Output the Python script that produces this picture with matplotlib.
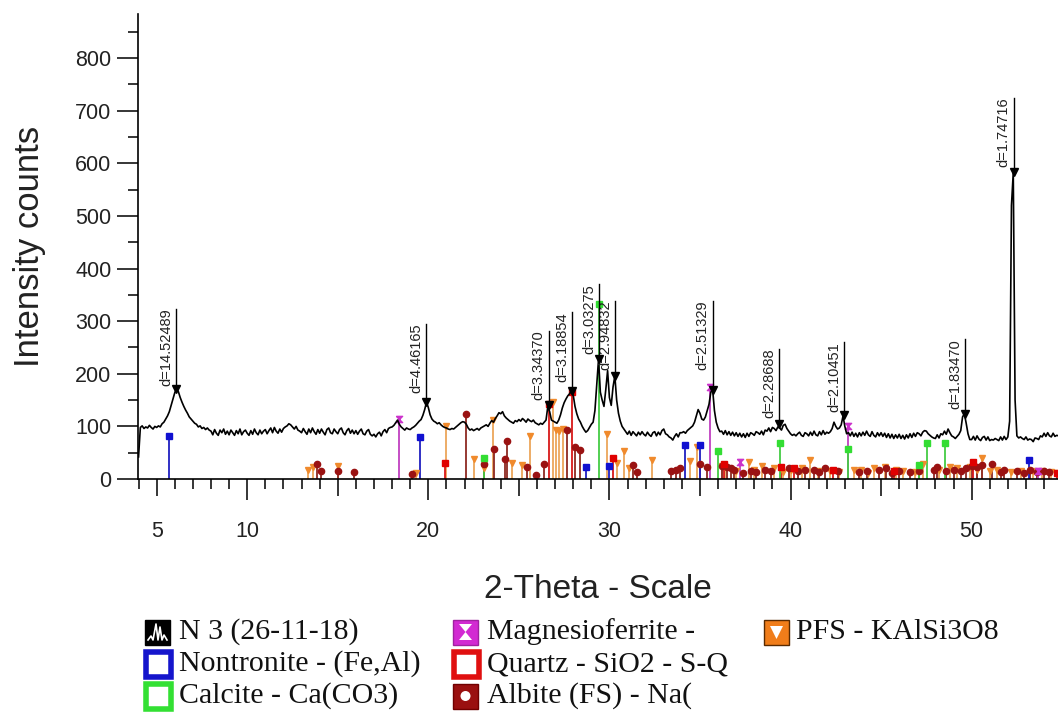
import numpy as np
import matplotlib
matplotlib.use("Agg")
import matplotlib.pyplot as plt
from matplotlib.patches import Rectangle, Circle, Polygon

plt.rcParams["font.family"] = ["Liberation Sans", "DejaVu Sans"]

# ---------- measured scan: 2-theta from 4.0 deg in 0.1 deg steps ----------
START, STEP = 4.0, 0.1
counts = [
    42, 98, 101, 96, 99, 97, 102, 98, 95, 100,
    98, 101, 99, 105, 108, 114, 120, 128, 140, 152,
    164, 172, 166, 155, 146, 138, 131, 125, 118, 114,
    110, 106, 104, 99, 101, 96, 98, 94, 97, 93,
    91, 84, 94, 87, 83, 93, 88, 95, 85, 91,
    84, 93, 88, 83, 92, 86, 95, 84, 90, 93,
    87, 83, 92, 85, 95, 88, 84, 93, 86, 91,
    94, 86, 92, 97, 88, 98, 91, 87, 95, 89,
    96, 99, 101, 105, 103, 99, 95, 100, 93, 91,
    88, 96, 90, 85, 95, 88, 97, 90, 85, 94,
    87, 95, 89, 84, 94, 97, 88, 86, 95, 90,
    86, 94, 97, 88, 84, 92, 96, 87, 93, 86,
    92, 85, 91, 95, 86, 84, 91, 94, 85, 82,
    85, 80, 86, 89, 82, 90, 94, 88, 96, 98,
    99, 102, 107, 112, 104, 99, 96, 93, 97, 95,
    94, 97, 99, 102, 106, 110, 113, 121, 132, 146,
    136, 122, 114, 110, 108, 105, 107, 103, 100, 98,
    97, 95, 94, 96, 95, 98, 101, 104, 107, 109,
    108, 104, 97, 93, 95, 92, 94, 96, 93, 97,
    99, 101, 103, 100, 106, 111, 108, 115, 120, 126,
    124, 128, 120, 116, 113, 110, 108, 106, 111, 109,
    113, 110, 115, 112, 108, 114, 111, 109, 112, 107,
    105, 103, 106, 104, 108, 112, 138, 128, 112, 110,
    108, 106, 112, 122, 135, 145, 152, 158, 162, 168,
    160, 138, 124, 114, 108, 100, 94, 89, 92, 98,
    104, 108, 130, 178, 228, 165, 150, 138, 170, 206,
    155, 140, 175, 196, 150, 125, 110, 100, 95, 90,
    85, 91, 83, 90, 86, 82, 89, 84, 90, 85,
    82, 89, 84, 81, 88, 90, 82, 89, 84, 92,
    95, 86, 84, 80, 78, 74, 81, 86, 80, 88,
    88, 90, 87, 92, 95, 98, 101, 108, 120, 132,
    125, 114, 112, 118, 130, 142, 165, 170, 130, 108,
    97, 90, 91, 85, 92, 84, 90, 83, 89, 82,
    88, 81, 87, 80, 86, 79, 87, 81, 88, 86,
    83, 90, 88, 85, 91, 84, 93, 91, 97, 90,
    98, 96, 92, 99, 97, 93, 102, 104, 96, 91,
    86, 83, 85, 82, 86, 89, 83, 81, 88, 86,
    82, 89, 83, 91, 84, 82, 90, 84, 92, 85,
    89, 87, 90, 96, 108, 100, 95, 97, 103, 120,
    100, 86, 88, 82, 89, 81, 87, 80, 88, 82,
    89, 83, 91, 84, 81, 90, 83, 80, 88, 82,
    88, 81, 87, 79, 86, 78, 85, 77, 84, 78,
    85, 77, 83, 76, 84, 78, 86, 79, 87, 81,
    88, 86, 82, 89, 92, 91, 86, 83, 80, 78,
    77, 84, 78, 86, 84, 91, 85, 95, 88, 82,
    80, 77, 81, 85, 92, 118, 124, 106, 86, 75,
    75, 81, 74, 82, 76, 73, 79, 81, 74, 80,
    73, 75, 74, 77, 75, 73, 80, 74, 81, 75,
    80, 110, 520, 583, 150, 82, 78, 80, 77, 75,
    80, 74, 76, 75, 71, 78, 77, 75, 82, 80,
    87, 81, 88, 82, 80, 87, 81, 83, 82,
]

# ---------- peak search results ----------
WAVELENGTH = 1.5406  # Cu K-alpha1, angstrom
d_spacings = [14.52489, 4.46165, 3.34370, 3.18854, 3.03275, 2.94832,
              2.51329, 2.28688, 2.10451, 1.83470, 1.74716]
peak_counts = [172, 146, 140, 168, 228, 196, 170, 105, 121, 124, 583]
label_tops = [324, 295, 282, 317, 371, 339, 339, 248, 260, 266, 725]

# ---------- reference patterns (2-theta, counts) ----------
nontronite_pos = [5.7, 19.55, 28.72, 29.95, 34.2, 35.0, 53.17]
nontronite_int = [82, 80, 22, 24, 65, 65, 37]

calcite_pos = [23.05, 29.4, 36.0, 39.43, 43.15, 47.07, 47.52, 48.54]
calcite_int = [40, 333, 53, 69, 57, 27, 69, 69]

magnesioferrite_pos = [18.4, 35.57, 37.23, 43.2, 53.65]
magnesioferrite_int = [114, 175, 32, 100, 15]

quartz_pos = [20.9, 26.64, 27.95, 30.2, 36.3, 39.45, 40.2, 42.35, 45.7, 50.1, 54.7]
quartz_int = [30, 143, 165, 40, 28, 22, 20, 18, 15, 32, 12]

albite_pos = [13.84, 14.06, 15.03, 15.9, 19.08, 22.07, 23.05, 23.6, 24.24, 24.37,
              25.44, 25.95, 26.4, 27.65, 28.12, 28.4, 31.3, 31.55, 33.4, 33.7,
              33.9, 35.0, 35.4, 36.2, 36.5, 36.7, 36.9, 37.4, 37.8, 38.1,
              38.6, 38.9, 39.9, 40.4, 40.8, 41.3, 41.6, 41.9, 42.6, 43.8,
              44.2, 44.9, 45.3, 45.6, 46.0, 46.6, 47.1, 47.9, 48.1, 48.6,
              49.0, 49.4, 49.7, 50.0, 50.3, 50.6, 51.1, 51.6, 51.8, 52.5,
              52.9, 53.2, 53.6, 54.0, 54.3]
albite_int = [28, 15, 16, 14, 9, 124, 28, 57, 38, 73,
              23, 8, 28, 93, 60, 55, 26, 14, 15, 18,
              20, 28, 22, 25, 22, 20, 18, 12, 16, 14,
              18, 15, 20, 16, 17, 18, 14, 20, 15, 14,
              15, 18, 20, 12, 16, 14, 15, 17, 22, 16,
              18, 15, 20, 25, 22, 26, 29, 14, 17, 16,
              12, 18, 13, 15, 14]

pfs_pos = [13.38, 13.62, 15.03, 19.33, 21.0, 22.53, 23.05, 23.56, 24.61, 25.16,
           25.62, 26.88, 27.06, 27.2, 27.45, 29.86, 30.4, 30.78, 31.1, 32.35,
           34.46, 34.83, 36.2, 36.4, 37.0, 37.7, 38.0, 38.4, 39.1, 39.6,
           40.0, 40.65, 41.07, 41.5, 42.2, 42.65, 43.5, 43.9, 44.3, 44.6,
           45.2, 45.8, 46.2, 46.9, 47.3, 48.2, 48.8, 49.2, 49.9, 50.3,
           50.6, 51.0, 51.4, 52.2, 52.7, 53.4, 53.9, 54.4, 54.7]
pfs_int = [17, 22, 24, 12, 100, 38, 20, 112, 30, 26,
           81, 146, 93, 92, 96, 86, 30, 53, 20, 36,
           34, 60, 25, 22, 15, 32, 18, 25, 20, 14,
           18, 20, 37, 16, 15, 14, 17, 18, 12, 20,
           22, 18, 15, 14, 29, 18, 22, 20, 22, 18,
           40, 16, 18, 13, 15, 15, 15, 14, 12]

HOURGLASS = [(-1, 1), (1, 1), (-1, -1), (1, -1), (-1, 1)]

phases = [
    # positions, intensities, line colour, marker colour, marker
    (pfs_pos, pfs_int, "#eca65a", "#f08a2c", "v"),
    (albite_pos, albite_int, "#8e2a22", "#9a1212", "o"),
    (quartz_pos, quartz_int, "#d81818", "#e00000", "s"),
    (nontronite_pos, nontronite_int, "#2020c0", "#1010d0", "s"),
    (magnesioferrite_pos, magnesioferrite_int, "#c040c0", "#cc33cc", HOURGLASS),
    (calcite_pos, calcite_int, "#44cc44", "#33dd33", "s"),
]

W, H = 1058, 723
fig = plt.figure(figsize=(W / 100, H / 100), dpi=100)

# pixel-space overlay for titles and the phase key
ov = fig.add_axes([0, 0, 1, 1])
ov.set_xlim(0, W)
ov.set_ylim(H, 0)
ov.axis("off")

ax = fig.add_axes([138 / W, 1 - 479 / H, (W - 138) / W, (479 - 14) / H])
ax.patch.set_alpha(0)

two_theta = START + STEP * np.arange(len(counts))

for pos, inten, lc, mc, mk in phases:
    ax.vlines(pos, 0, inten, color=lc, lw=1.3, zorder=2)
    ax.plot(pos, inten, ls="none", marker=mk, color=mc, ms=4.5, mec=mc, zorder=2.5)

ax.plot(two_theta, counts, color="black", lw=1.2, zorder=3)

for d, pk, top in zip(d_spacings, peak_counts, label_tops):
    tt = 2 * np.degrees(np.arcsin(WAVELENGTH / (2 * d)))
    ax.plot([tt, tt], [pk, top], color="black", lw=1.0, zorder=4)
    ax.plot(tt, pk, marker="v", color="black", ms=6, zorder=4)
    ax.annotate(f"d={d:.5f}", xy=(tt, top), xytext=(-2, 0), textcoords="offset points",
                rotation=90, ha="right", va="top", fontsize=10.5, color="#222222")

ax.set_xlim(3.97, 54.77)
ax.set_ylim(0, 884)
for side in ("top", "right"):
    ax.spines[side].set_visible(False)
for side in ("left", "bottom"):
    ax.spines[side].set_linewidth(1.2)

xt = [5, 10, 15, 20, 25, 30, 35, 40, 45, 50]
ax.set_xticks(xt)
ax.set_xticklabels([str(v) if v % 10 == 0 or v == 5 else "" for v in xt])
ax.set_xticks(np.arange(4, 55, 1), minor=True)
ax.set_yticks(np.arange(0, 801, 100))
ax.set_yticks(np.arange(50, 851, 100), minor=True)
ax.tick_params(axis="both", which="major", direction="out", length=15, width=1.1,
               labelsize=15.5, labelcolor="#222222")
ax.tick_params(axis="x", which="major", pad=15)
ax.tick_params(axis="y", which="major", pad=4)
ax.tick_params(axis="both", which="minor", direction="out", length=7.5, width=1.1)
for v, tick in zip(xt, ax.xaxis.get_major_ticks()):
    if v % 10:
        tick.tick1line.set_markersize(12)

ov.text(30, 246, "Intensity counts", rotation=90, ha="center", va="center",
        fontsize=25, color="#222222")
ov.text(598, 590, "2-Theta - Scale", ha="center", va="center", fontsize=24,
        color="#222222")

# ---------- phase key ----------
key_font = dict(family=["Liberation Serif", "DejaVu Serif"], fontsize=21.5,
                color="#111111", va="center", ha="left")
rows = [632, 664, 696]
S = 25


def box(x, y, face, edge, lw):
    ov.add_patch(Rectangle((x, y - S / 2), S, S, facecolor=face, edgecolor=edge, lw=lw))


# scan icon
box(145, rows[0], "black", "black", 1)
ov.plot([148, 151, 153, 156, 158, 160, 162, 164, 167],
        [rows[0] + 8, rows[0] + 4, rows[0] + 8, rows[0] - 8, rows[0] + 8,
         rows[0] - 5, rows[0] + 8, rows[0] + 3, rows[0] + 8], color="white", lw=1.2)
ov.text(179, rows[0], "N 3 (26-11-18)", **key_font)

box(146, rows[1], "white", "#1515cc", 4)
ov.text(179, rows[1], "Nontronite - (Fe,Al)", **key_font)

box(146, rows[2], "white", "#33e033", 4)
ov.text(179, rows[2], "Calcite - Ca(CO3)", **key_font)

box(453, rows[0], "#d22ad2", "#a020a0", 1)
ov.add_patch(Polygon([(459, rows[0] - 8), (472, rows[0] - 8), (459, rows[0] + 8),
                      (472, rows[0] + 8)], closed=True, facecolor="white", edgecolor="none"))
ov.text(487, rows[0], "Magnesioferrite -", **key_font)

box(454, rows[1], "white", "#e01010", 4)
ov.text(487, rows[1], "Quartz - SiO2 - S-Q", **key_font)

box(453, rows[2], "#9a1010", "#700000", 1)
ov.add_patch(Circle((465.5, rows[2]), 5, facecolor="white", edgecolor="none"))
ov.text(487, rows[2], "Albite (FS) - Na(", **key_font)

box(764, rows[0], "#f07d1a", "#5a2a00", 1)
ov.add_patch(Polygon([(770, rows[0] - 6), (783, rows[0] - 6), (776.5, rows[0] + 7)],
                     closed=True, facecolor="white", edgecolor="none"))
ov.text(796, rows[0], "PFS - KAlSi3O8", **key_font)

fig.savefig("out.png", dpi=100)
